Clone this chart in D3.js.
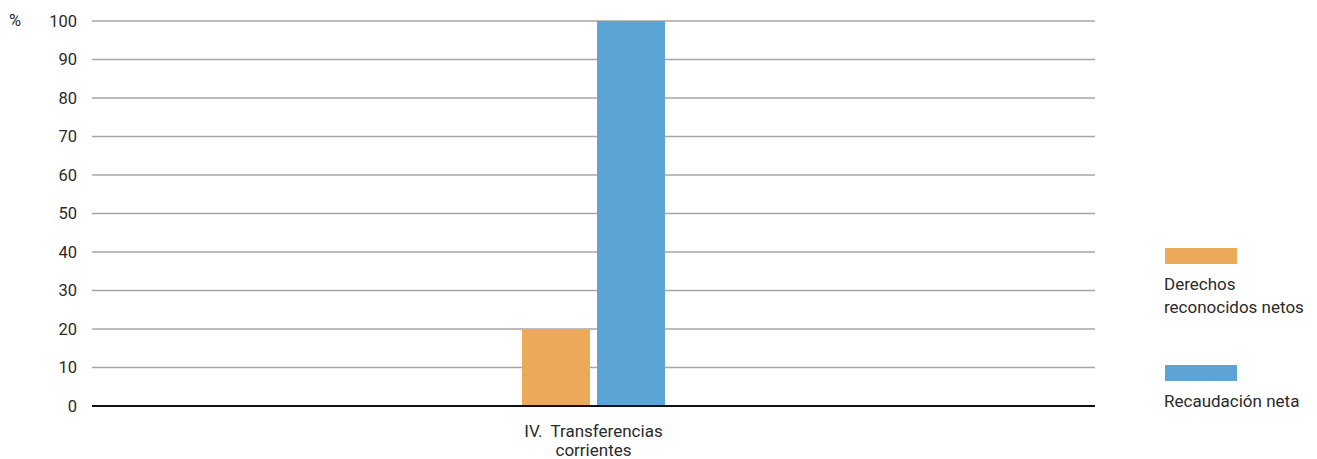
<!DOCTYPE html>
<html><head><meta charset="utf-8">
<script src="https://cdn.jsdelivr.net/npm/d3@7"></script>
<style>body{margin:0;background:#fff}svg{display:block;font-family:Roboto,"Noto Sans",sans-serif}</style>
</head><body><svg id="c" width="1317" height="459"></svg>
<script>
const categories = ["IV.  Transferencias|corrientes"];
const seriesNames = ["Derechos reconocidos netos", "Recaudación neta"];
const derechos = [20];
const recaudacion = [100];
const yTicks = [0,10,20,30,40,50,60,70,80,90,100];
const colors = ["#EDA95A", "#5BA4D5"];

(function(){
const svg = d3.select("#c");
const mLeft = 92, mRight = 1095, mTop = 21, mBottom = 406;
const x = d3.scaleBand().domain(categories).range([mLeft, mRight]).paddingInner(0).paddingOuter(3.007);
const xs = d3.scaleBand().domain(seriesNames).range([0, x.bandwidth()]).paddingInner(0.0933);
const y = d3.scaleLinear().domain([0, 100]).range([mBottom, mTop]);

// grid
svg.append("g").selectAll("line").data(yTicks.filter(d => d > 0)).join("line")
  .attr("x1", mLeft).attr("x2", mRight).attr("y1", d => y(d)).attr("y2", d => y(d))
  .attr("stroke", "#a6a6a6").attr("stroke-width", 1.5);

// y labels
const yAxis = d3.axisLeft(y).tickValues(yTicks).tickSize(0).tickPadding(15);
const ga = svg.append("g").attr("transform", `translate(${mLeft},0)`).call(yAxis);
ga.select(".domain").remove();
ga.selectAll("text").attr("font-size", 16.5).attr("fill", "#2a2a2a").attr("font-family", "Roboto, sans-serif");

svg.append("text").attr("x", 9).attr("y", y(100)).attr("dy", "0.32em").attr("font-size", 16.5).attr("fill", "#2a2a2a").text("%");

// bars
const data = categories.map((c, i) => ({c, vals: [derechos[i], recaudacion[i]]}));
const g = svg.append("g");
data.forEach(d => {
  d.vals.forEach((v, j) => {
    g.append("rect").attr("x", x(d.c) + xs(seriesNames[j])).attr("width", xs.bandwidth())
      .attr("y", y(v)).attr("height", y(0) - y(v)).attr("fill", colors[j]);
  });
});

// zero line
svg.append("line").attr("x1", mLeft).attr("x2", mRight).attr("y1", y(0)).attr("y2", y(0))
  .attr("stroke", "#111").attr("stroke-width", 2);

// x labels
data.forEach(d => {
  const t = svg.append("text").attr("text-anchor", "middle").attr("font-size", 17).attr("fill", "#2a2a2a").style("white-space","pre");
  d.c.split("|").forEach((s, k) => {
    t.append("tspan").attr("x", x(d.c) + x.bandwidth() / 2).attr("y", 437 + k * 19).text(s);
  });
});

// legend
const leg = [{y: 248, lines: ["Derechos", "reconocidos netos"]}, {y: 365, lines: ["Recaudación neta"]}];
leg.forEach((l, i) => {
  svg.append("rect").attr("x", 1165).attr("y", l.y).attr("width", 72).attr("height", 16).attr("fill", colors[i]);
  l.lines.forEach((s, k) => {
    svg.append("text").attr("x", 1164).attr("y", l.y + 42 + k * 23).attr("font-size", 17).attr("fill", "#2a2a2a").text(s);
  });
});
})();
</script></body></html>
